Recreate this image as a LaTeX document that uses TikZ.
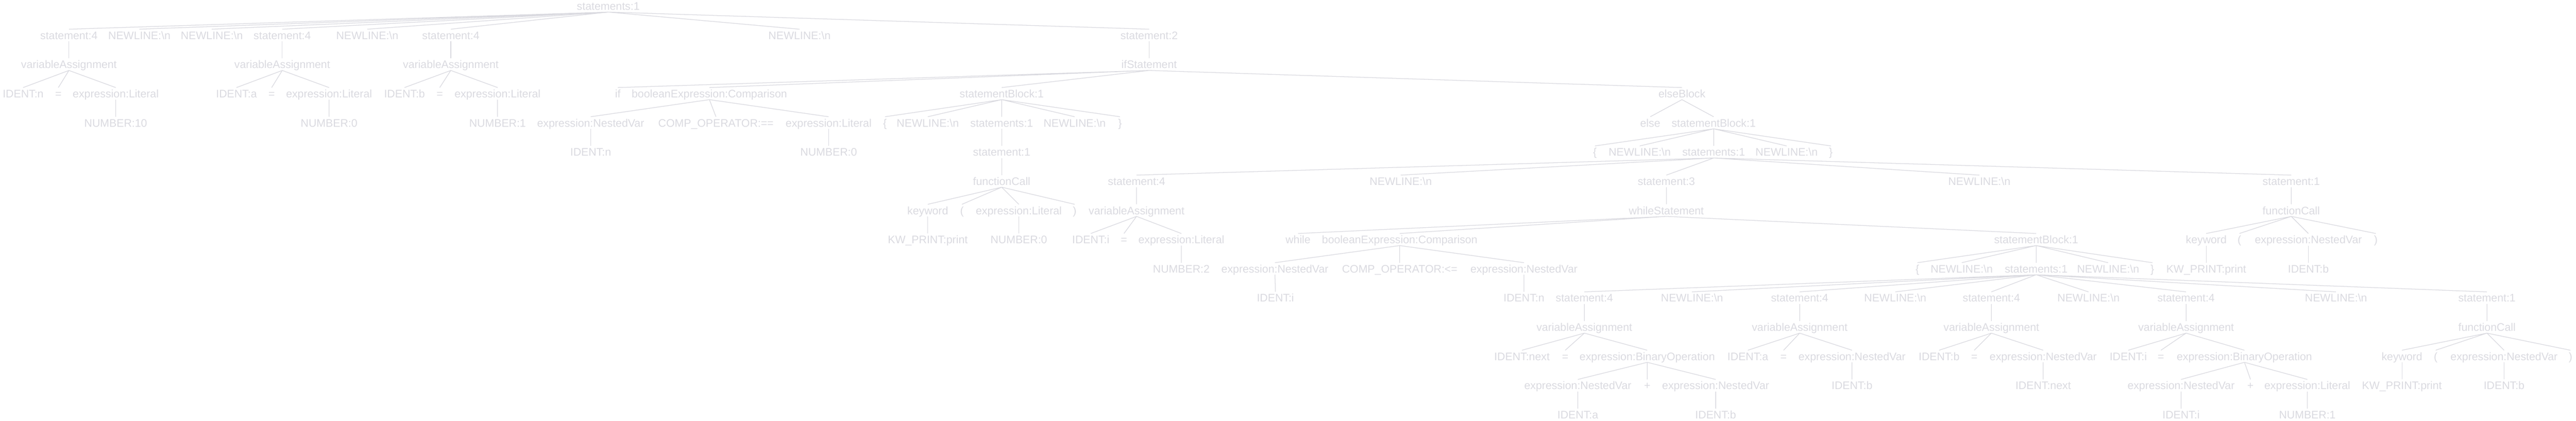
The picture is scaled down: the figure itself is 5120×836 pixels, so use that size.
\documentclass[tikz,border=0pt]{standalone}
\usepackage{fontspec}
\setmainfont{Liberation Sans}
\usepackage{tikz}

\definecolor{treegray}{RGB}{218,218,224}

\begin{document}
\begin{tikzpicture}[
        x = 0.5pt,
        y = -0.5pt,
        tok/.style = {
            text = treegray,
            font = \fontsize{10.9pt}{12pt}\selectfont,
            inner sep = 0pt,
            outer sep = 0pt,
            text height = 10pt,
            text depth = 2pt
        },
        link/.style = {
            draw = treegray,
            line width = 0.65pt
        }
    ]
    \useasboundingbox (0,0) rectangle (5120,836);
    % level 0 and 1
    \node[tok] (root) at (1209,12) {statements:1};
    \node[tok] (s1) at (137,70) {statement:4};
    \node[tok] (nl1) at (277,70) {NEWLINE:\textbackslash n};
    \node[tok] (nl2) at (421,70) {NEWLINE:\textbackslash n};
    \node[tok] (s2) at (561,70) {statement:4};
    \node[tok] (nl3) at (730,70) {NEWLINE:\textbackslash n};
    \node[tok] (s3) at (896,70) {statement:4};
    \node[tok] (nl4) at (1589,70) {NEWLINE:\textbackslash n};
    \node[tok] (s4) at (2284,70) {statement:2};
    % level 2
    \node[tok] (va1) at (137,128) {variableAssignment};
    \node[tok] (va2) at (561,128) {variableAssignment};
    \node[tok] (va3) at (896,128) {variableAssignment};
    \node[tok] (ifst) at (2284,128) {ifStatement};
    % level 3
    \node[tok] (idn) at (46,186) {IDENT:n};
    \node[tok] (eq1) at (116,186) {=};
    \node[tok] (lit1) at (230,186) {expression:Literal};
    \node[tok] (ida) at (470,186) {IDENT:a};
    \node[tok] (eq2) at (540,186) {=};
    \node[tok] (lit2) at (654,186) {expression:Literal};
    \node[tok] (idb) at (804,186) {IDENT:b};
    \node[tok] (eq3) at (874,186) {=};
    \node[tok] (lit3) at (989,186) {expression:Literal};
    \node[tok] (kwif) at (1228,186) {if};
    \node[tok] (cmp1) at (1410,186) {booleanExpression:Comparison};
    \node[tok] (blk1) at (1991,186) {statementBlock:1};
    \node[tok] (elseb) at (3343,186) {elseBlock};
    % level 4
    \node[tok] (num1) at (230,244) {NUMBER:10};
    \node[tok] (num2) at (654,244) {NUMBER:0};
    \node[tok] (num3) at (989,244) {NUMBER:1};
    \node[tok] (nv1) at (1174,244) {expression:NestedVar};
    \node[tok] (op1) at (1423,244) {COMP\_OPERATOR:==};
    \node[tok] (lit4) at (1647,244) {expression:Literal};
    \node[tok] (lb1) at (1759,244) {\{};
    \node[tok] (nl5) at (1844,244) {NEWLINE:\textbackslash n};
    \node[tok] (sts1) at (1991,244) {statements:1};
    \node[tok] (nl6) at (2136,244) {NEWLINE:\textbackslash n};
    \node[tok] (rb1) at (2226,244) {\}};
    \node[tok] (kwelse) at (3280,244) {else};
    \node[tok] (blk2) at (3406,244) {statementBlock:1};
    % level 5
    \node[tok] (idn2) at (1174,302) {IDENT:n};
    \node[tok] (num4) at (1647,302) {NUMBER:0};
    \node[tok] (st1) at (1991,302) {statement:1};
    \node[tok] (lb2) at (3170,302) {\{};
    \node[tok] (nl7) at (3259,302) {NEWLINE:\textbackslash n};
    \node[tok] (sts2) at (3406,302) {statements:1};
    \node[tok] (nl8) at (3551,302) {NEWLINE:\textbackslash n};
    \node[tok] (rb2) at (3639,302) {\}};
    % level 6
    \node[tok] (fc1) at (1991,360) {functionCall};
    \node[tok] (s5) at (2259,360) {statement:4};
    \node[tok] (nl9) at (2784,360) {NEWLINE:\textbackslash n};
    \node[tok] (s6) at (3312,360) {statement:3};
    \node[tok] (nl10) at (3934,360) {NEWLINE:\textbackslash n};
    \node[tok] (s7) at (4554,360) {statement:1};
    % level 7
    \node[tok] (kw1) at (1844,418) {keyword};
    \node[tok] (lp1) at (1912,418) {(};
    \node[tok] (lit5) at (2025,418) {expression:Literal};
    \node[tok] (rp1) at (2136,418) {)};
    \node[tok] (va4) at (2259,418) {variableAssignment};
    \node[tok] (whl) at (3312,418) {whileStatement};
    \node[tok] (fc2) at (4554,418) {functionCall};
    % level 8
    \node[tok] (pr1) at (1844,476) {KW\_PRINT:print};
    \node[tok] (num5) at (2025,476) {NUMBER:0};
    \node[tok] (idi) at (2168,476) {IDENT:i};
    \node[tok] (eq4) at (2234,476) {=};
    \node[tok] (lit6) at (2348,476) {expression:Literal};
    \node[tok] (kwwhile) at (2580,476) {while};
    \node[tok] (cmp2) at (2782,476) {booleanExpression:Comparison};
    \node[tok] (blk3) at (4047,476) {statementBlock:1};
    \node[tok] (kw2) at (4385,476) {keyword};
    \node[tok] (lp2) at (4451,476) {(};
    \node[tok] (nv2) at (4588,476) {expression:NestedVar};
    \node[tok] (rp2) at (4722,476) {)};
    % level 9
    \node[tok] (num6) at (2348,534) {NUMBER:2};
    \node[tok] (nv3) at (2534,534) {expression:NestedVar};
    \node[tok] (op2) at (2782,534) {COMP\_OPERATOR:<=};
    \node[tok] (nv4) at (3029,534) {expression:NestedVar};
    \node[tok] (lb3) at (3811,534) {\{};
    \node[tok] (nl11) at (3899,534) {NEWLINE:\textbackslash n};
    \node[tok] (sts3) at (4047,534) {statements:1};
    \node[tok] (nl12) at (4190,534) {NEWLINE:\textbackslash n};
    \node[tok] (rb3) at (4278,534) {\}};
    \node[tok] (pr2) at (4385,534) {KW\_PRINT:print};
    \node[tok] (idb2) at (4588,534) {IDENT:b};
    % level 10
    \node[tok] (idi2) at (2535,592) {IDENT:i};
    \node[tok] (idn3) at (3029,592) {IDENT:n};
    \node[tok] (s8) at (3149,592) {statement:4};
    \node[tok] (nl13) at (3363,592) {NEWLINE:\textbackslash n};
    \node[tok] (s9) at (3577,592) {statement:4};
    \node[tok] (nl14) at (3767,592) {NEWLINE:\textbackslash n};
    \node[tok] (s10) at (3958,592) {statement:4};
    \node[tok] (nl15) at (4151,592) {NEWLINE:\textbackslash n};
    \node[tok] (s11) at (4345,592) {statement:4};
    \node[tok] (nl16) at (4643,592) {NEWLINE:\textbackslash n};
    \node[tok] (s12) at (4943,592) {statement:1};
    % level 11
    \node[tok] (va5) at (3149,650) {variableAssignment};
    \node[tok] (va6) at (3577,650) {variableAssignment};
    \node[tok] (va7) at (3958,650) {variableAssignment};
    \node[tok] (va8) at (4345,650) {variableAssignment};
    \node[tok] (fc3) at (4943,650) {functionCall};
    % level 12
    \node[tok] (idnext) at (3025,708) {IDENT:next};
    \node[tok] (eq5) at (3111,708) {=};
    \node[tok] (bin1) at (3274,708) {expression:BinaryOperation};
    \node[tok] (ida2) at (3474,708) {IDENT:a};
    \node[tok] (eq6) at (3545,708) {=};
    \node[tok] (nv5) at (3681,708) {expression:NestedVar};
    \node[tok] (idb3) at (3854,708) {IDENT:b};
    \node[tok] (eq7) at (3924,708) {=};
    \node[tok] (nv6) at (4061,708) {expression:NestedVar};
    \node[tok] (idi3) at (4230,708) {IDENT:i};
    \node[tok] (eq8) at (4295,708) {=};
    \node[tok] (bin2) at (4461,708) {expression:BinaryOperation};
    \node[tok] (kw3) at (4774,708) {keyword};
    \node[tok] (lp3) at (4841,708) {(};
    \node[tok] (nv7) at (4977,708) {expression:NestedVar};
    \node[tok] (rp3) at (5109,708) {)};
    % level 13
    \node[tok] (nv8) at (3136,766) {expression:NestedVar};
    \node[tok] (plus1) at (3274,766) {+};
    \node[tok] (nv9) at (3410,766) {expression:NestedVar};
    \node[tok] (idb4) at (3681,766) {IDENT:b};
    \node[tok] (idnext2) at (4061,766) {IDENT:next};
    \node[tok] (nv10) at (4335,766) {expression:NestedVar};
    \node[tok] (plus2) at (4473,766) {+};
    \node[tok] (lit7) at (4586,766) {expression:Literal};
    \node[tok] (pr3) at (4774,766) {KW\_PRINT:print};
    \node[tok] (idb5) at (4977,766) {IDENT:b};
    % level 14
    \node[tok] (ida3) at (3136,824) {IDENT:a};
    \node[tok] (idb6) at (3410,824) {IDENT:b};
    \node[tok] (idi4) at (4335,824) {IDENT:i};
    \node[tok] (num7) at (4586,824) {NUMBER:1};

    % edges
    \draw[link] (root.south) -- (s1.north) (root.south) -- (nl1.north) (root.south) -- (nl2.north) (root.south) -- (s2.north);
    \draw[link] (root.south) -- (nl3.north) (root.south) -- (s3.north) (root.south) -- (nl4.north) (root.south) -- (s4.north);
    \draw[link] (s1.south) -- (va1.north) (s2.south) -- (va2.north) (s3.south) -- (va3.north) (s4.south) -- (ifst.north);
    \draw[link] (va1.south) -- (idn.north) (va1.south) -- (eq1.north) (va1.south) -- (lit1.north) (lit1.south) -- (num1.north);
    \draw[link] (va2.south) -- (ida.north) (va2.south) -- (eq2.north) (va2.south) -- (lit2.north) (lit2.south) -- (num2.north);
    \draw[link] (va3.south) -- (idb.north) (va3.south) -- (eq3.north) (va3.south) -- (lit3.north) (lit3.south) -- (num3.north);
    \draw[link] (ifst.south) -- (kwif.north) (ifst.south) -- (cmp1.north) (ifst.south) -- (blk1.north) (ifst.south) -- (elseb.north);
    \draw[link] (cmp1.south) -- (nv1.north) (cmp1.south) -- (op1.north) (cmp1.south) -- (lit4.north);
    \draw[link] (nv1.south) -- (idn2.north) (lit4.south) -- (num4.north);
    \draw[link] (blk1.south) -- (lb1.north) (blk1.south) -- (nl5.north) (blk1.south) -- (sts1.north) (blk1.south) -- (nl6.north) (blk1.south) -- (rb1.north);
    \draw[link] (sts1.south) -- (st1.north) (st1.south) -- (fc1.north);
    \draw[link] (fc1.south) -- (kw1.north) (fc1.south) -- (lp1.north) (fc1.south) -- (lit5.north) (fc1.south) -- (rp1.north);
    \draw[link] (kw1.south) -- (pr1.north) (lit5.south) -- (num5.north);
    \draw[link] (elseb.south) -- (kwelse.north) (elseb.south) -- (blk2.north);
    \draw[link] (blk2.south) -- (lb2.north) (blk2.south) -- (nl7.north) (blk2.south) -- (sts2.north) (blk2.south) -- (nl8.north) (blk2.south) -- (rb2.north);
    \draw[link] (sts2.south) -- (s5.north) (sts2.south) -- (nl9.north) (sts2.south) -- (s6.north) (sts2.south) -- (nl10.north) (sts2.south) -- (s7.north);
    \draw[link] (s5.south) -- (va4.north) (va4.south) -- (idi.north) (va4.south) -- (eq4.north) (va4.south) -- (lit6.north) (lit6.south) -- (num6.north);
    \draw[link] (s6.south) -- (whl.north) (whl.south) -- (kwwhile.north) (whl.south) -- (cmp2.north) (whl.south) -- (blk3.north);
    \draw[link] (cmp2.south) -- (nv3.north) (cmp2.south) -- (op2.north) (cmp2.south) -- (nv4.north);
    \draw[link] (nv3.south) -- (idi2.north) (nv4.south) -- (idn3.north);
    \draw[link] (blk3.south) -- (lb3.north) (blk3.south) -- (nl11.north) (blk3.south) -- (sts3.north) (blk3.south) -- (nl12.north) (blk3.south) -- (rb3.north);
    \draw[link] (sts3.south) -- (s8.north) (sts3.south) -- (nl13.north) (sts3.south) -- (s9.north) (sts3.south) -- (nl14.north) (sts3.south) -- (s10.north);
    \draw[link] (sts3.south) -- (nl15.north) (sts3.south) -- (s11.north) (sts3.south) -- (nl16.north) (sts3.south) -- (s12.north);
    \draw[link] (s7.south) -- (fc2.north) (fc2.south) -- (kw2.north) (fc2.south) -- (lp2.north) (fc2.south) -- (nv2.north) (fc2.south) -- (rp2.north);
    \draw[link] (kw2.south) -- (pr2.north) (nv2.south) -- (idb2.north);
    \draw[link] (s8.south) -- (va5.north) (va5.south) -- (idnext.north) (va5.south) -- (eq5.north) (va5.south) -- (bin1.north);
    \draw[link] (bin1.south) -- (nv8.north) (bin1.south) -- (plus1.north) (bin1.south) -- (nv9.north) (nv8.south) -- (ida3.north) (nv9.south) -- (idb6.north);
    \draw[link] (s9.south) -- (va6.north) (va6.south) -- (ida2.north) (va6.south) -- (eq6.north) (va6.south) -- (nv5.north) (nv5.south) -- (idb4.north);
    \draw[link] (s10.south) -- (va7.north) (va7.south) -- (idb3.north) (va7.south) -- (eq7.north) (va7.south) -- (nv6.north) (nv6.south) -- (idnext2.north);
    \draw[link] (s11.south) -- (va8.north) (va8.south) -- (idi3.north) (va8.south) -- (eq8.north) (va8.south) -- (bin2.north);
    \draw[link] (bin2.south) -- (nv10.north) (bin2.south) -- (plus2.north) (bin2.south) -- (lit7.north) (nv10.south) -- (idi4.north) (lit7.south) -- (num7.north);
    \draw[link] (s12.south) -- (fc3.north) (fc3.south) -- (kw3.north) (fc3.south) -- (lp3.north) (fc3.south) -- (nv7.north) (fc3.south) -- (rp3.north);
    \draw[link] (kw3.south) -- (pr3.north) (nv7.south) -- (idb5.north);
\end{tikzpicture}
\end{document}
